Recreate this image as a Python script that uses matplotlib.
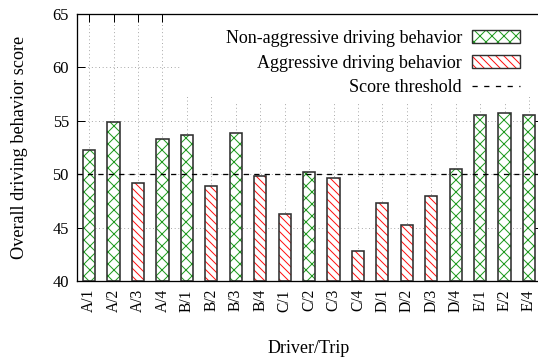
import matplotlib
matplotlib.use('Agg')
import matplotlib.pyplot as plt
import matplotlib.patches as Patches
from matplotlib.lines import Line2D
import numpy as np

# dpi 72 so that one point is one pixel (also sets the hatch spacing)
DPI = 72
plt.rcParams['font.family'] = ['Liberation Serif', 'DejaVu Serif']
plt.rcParams['hatch.linewidth'] = 1.0

# Driver/trip labels and their overall behaviour scores
trips = ['A/1', 'A/2', 'A/3', 'A/4', 'B/1', 'B/2', 'B/3', 'B/4',
         'C/1', 'C/2', 'C/3', 'C/4', 'D/1', 'D/2', 'D/3', 'D/4',
         'E/1', 'E/2', 'E/4']
scores = [52.3, 54.9, 49.2, 53.3, 53.7, 48.9, 53.9, 49.8,
          46.3, 50.2, 49.6, 42.8, 47.3, 45.2, 48.0, 50.5,
          55.5, 55.7, 55.5]
threshold = 50
y_ticks = [40, 45, 50, 55, 60, 65]

green = '#1f9a1f'
red = '#ff1010'
edge = '#303030'
green_hatch = 'xx'
red_hatch = '\\\\\\'

fig = plt.figure(figsize=(538 / DPI, 358 / DPI), dpi=DPI)
ax = fig.add_axes([0.143, 0.215, 0.863, 0.746])

x = np.arange(len(trips))
scores = np.array(scores)
aggressive = scores < threshold

for xi, s, agg in zip(x, scores, aggressive):
    col, hatch = (red, red_hatch) if agg else (green, green_hatch)
    # hatch layer first (hatch colour follows edgecolor), then dark outline
    ax.bar(xi, s - 40, bottom=40, width=0.5, facecolor='white',
           edgecolor=col, hatch=hatch, linewidth=0, zorder=2)
    ax.bar(xi, s - 40, bottom=40, width=0.5, facecolor='none',
           edgecolor=edge, linewidth=1.6, zorder=3)

ax.axhline(threshold, color='black', linestyle=(0, (4, 4)),
           linewidth=1.3, zorder=4)

ax.set_xlim(-0.5, len(trips) - 0.5)
ax.set_ylim(40, 65)
ax.set_yticks(y_ticks)
ax.set_xticks(x)
ax.set_xticklabels(trips, rotation=90, fontsize=15.5)
ax.tick_params(axis='y', labelsize=16.5, pad=8)
ax.tick_params(axis='x', pad=8)
ax.tick_params(direction='in', length=8, width=1.0, top=True, right=True)
ax.grid(True, linestyle=(0, (1, 3)), color='#9a9a9a', linewidth=0.9, zorder=0)
ax.set_axisbelow(True)
for sp in ax.spines.values():
    sp.set_linewidth(1.3)

ax.set_ylabel('Overall driving behavior score', fontsize=18.3, labelpad=24)
ax.set_xlabel('Driver/Trip', fontsize=18, labelpad=28)

# opaque key area hides the grid behind the legend
ax.add_patch(Patches.Rectangle((0.222, 0.689), 0.778, 0.311, transform=ax.transAxes,
                               facecolor='white', edgecolor='none', zorder=1))

# legend samples: hatched fill with outline drawn on top
non_agg = (Patches.Patch(facecolor='white', edgecolor=green, hatch=green_hatch, linewidth=0),
           Patches.Patch(facecolor='none', edgecolor=edge, linewidth=1.4))
agg_h = (Patches.Patch(facecolor='white', edgecolor=red, hatch=red_hatch, linewidth=0),
         Patches.Patch(facecolor='none', edgecolor=edge, linewidth=1.4))
thr = Line2D([], [], color='black', linestyle=(0, (4, 5)), linewidth=1.3)

leg = ax.legend([non_agg, agg_h, thr],
                ['Non-aggressive driving behavior', 'Aggressive driving behavior',
                 'Score threshold'],
                loc='upper right', bbox_to_anchor=(0.965, 0.96),
                markerfirst=False, fontsize=18, frameon=True,
                handlelength=2.65, handleheight=0.72, labelspacing=0.42,
                borderpad=0.3, handletextpad=0.55, borderaxespad=0)
leg.get_frame().set_facecolor('white')
leg.get_frame().set_edgecolor('white')
leg.get_frame().set_alpha(1)
for t in leg.get_texts():
    t.set_ha('right')

fig.savefig('out.png', dpi=DPI)
